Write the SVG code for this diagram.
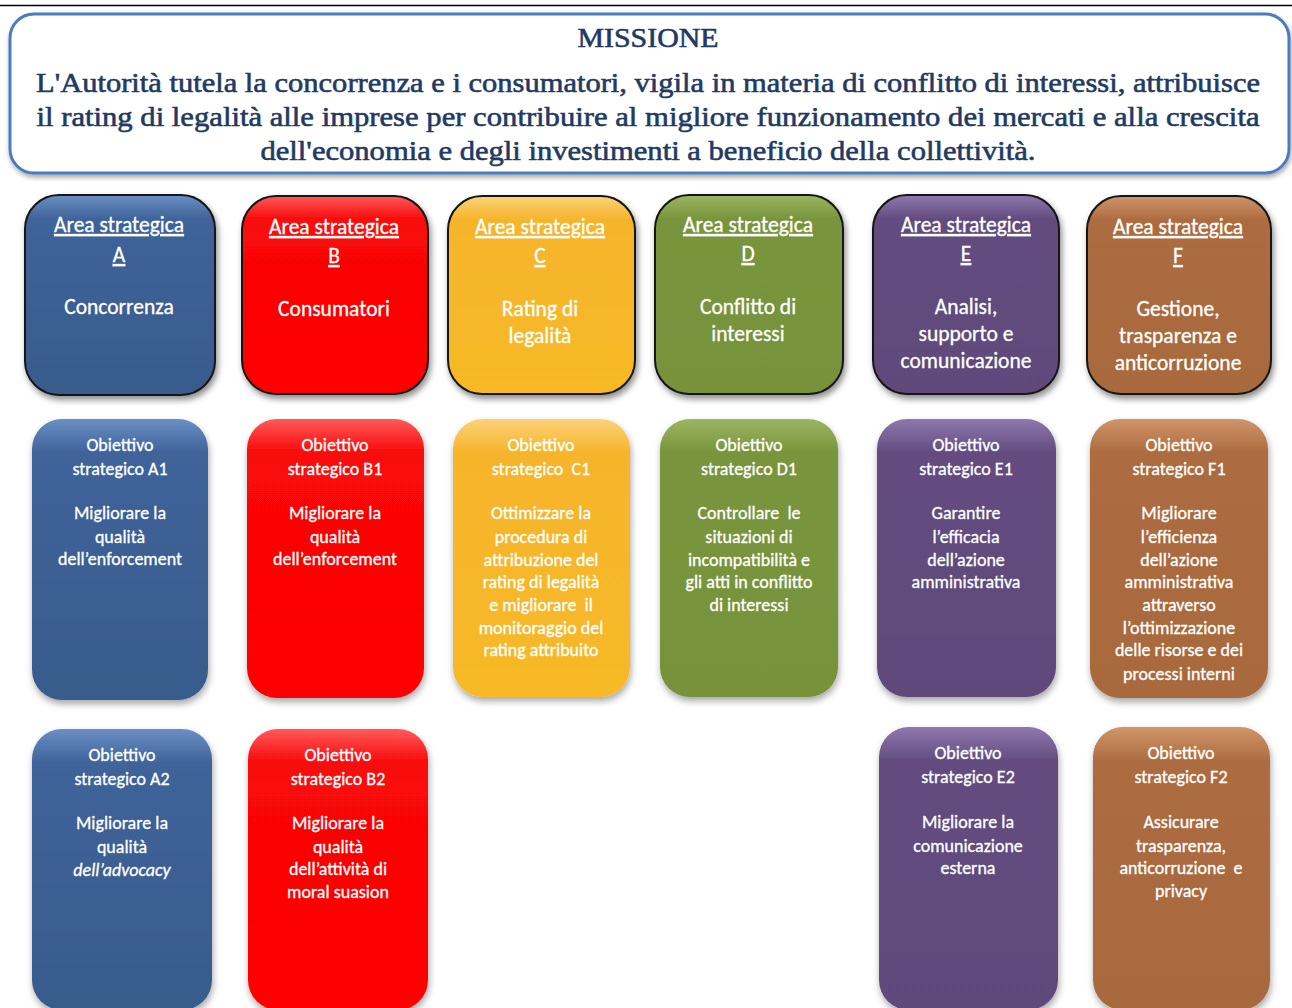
<svg xmlns="http://www.w3.org/2000/svg" width="1292" height="1008" viewBox="0 0 1292 1008">
<style>
.mt{font-family:"Liberation Serif","Times New Roman",serif;fill:#1f3a63;stroke:#1f3a63;stroke-width:0.6;text-anchor:middle}
.at{font-family:Carlito,Lato,"Liberation Sans",sans-serif;font-size:21.5px;fill:#fff;stroke:#fff;stroke-width:0.3;text-anchor:middle}
.u{text-decoration:underline}
.ot{font-family:Carlito,Lato,"Liberation Sans",sans-serif;font-size:18px;fill:#fff;stroke:#fff;stroke-width:0.3;text-anchor:middle}
.area{stroke:#151515;stroke-width:2;filter:url(#sh)}
.obj{filter:url(#sh2)}
</style>
<defs>
<filter id="sh" x="-20%" y="-20%" width="140%" height="140%">
<feDropShadow dx="2" dy="4" stdDeviation="3" flood-color="#000" flood-opacity="0.45"/>
</filter>
<filter id="sh2" x="-20%" y="-20%" width="140%" height="140%">
<feDropShadow dx="1" dy="4" stdDeviation="3.5" flood-color="#000" flood-opacity="0.35"/>
</filter>
<filter id="sh3" x="-5%" y="-20%" width="110%" height="140%">
<feDropShadow dx="1" dy="3" stdDeviation="2.5" flood-color="#000" flood-opacity="0.35"/>
</filter>
<linearGradient id="gA" x1="0" y1="0" x2="0" y2="1"><stop offset="0" stop-color="#6a8fc4"/><stop offset="0.12" stop-color="#3f639a"/><stop offset="1" stop-color="#385b8b"/></linearGradient>
<linearGradient id="gB" x1="0" y1="0" x2="0" y2="1"><stop offset="0" stop-color="#ff5a5a"/><stop offset="0.12" stop-color="#f80808"/><stop offset="1" stop-color="#ff0000"/></linearGradient>
<linearGradient id="gC" x1="0" y1="0" x2="0" y2="1"><stop offset="0" stop-color="#fcd27a"/><stop offset="0.12" stop-color="#f6b42a"/><stop offset="1" stop-color="#f7b928"/></linearGradient>
<linearGradient id="gD" x1="0" y1="0" x2="0" y2="1"><stop offset="0" stop-color="#9bb562"/><stop offset="0.12" stop-color="#78953c"/><stop offset="1" stop-color="#77923b"/></linearGradient>
<linearGradient id="gE" x1="0" y1="0" x2="0" y2="1"><stop offset="0" stop-color="#8e78ad"/><stop offset="0.12" stop-color="#634c80"/><stop offset="1" stop-color="#5f4a7a"/></linearGradient>
<linearGradient id="gF" x1="0" y1="0" x2="0" y2="1"><stop offset="0" stop-color="#d0956a"/><stop offset="0.12" stop-color="#ac6c40"/><stop offset="1" stop-color="#a8693d"/></linearGradient>
</defs>
<rect width="1292" height="1008" fill="#fff"/>
<line x1="0" y1="5.5" x2="1292" y2="5.5" stroke="#000" stroke-width="1.5"/>

<g id="missione">
<rect x="10" y="14" width="1279" height="159" rx="24" fill="#fff" stroke="#4a7dbb" stroke-width="3" filter="url(#sh3)"/>
<text class="mt" x="648" y="47" font-size="27" textLength="141" lengthAdjust="spacingAndGlyphs">MISSIONE</text>
<text class="mt" x="648" y="92" font-size="27.5" textLength="1224" lengthAdjust="spacingAndGlyphs">L'Autorità tutela la concorrenza e i consumatori, vigila in materia di conflitto di interessi, attribuisce</text>
<text class="mt" x="648" y="126" font-size="27.5" textLength="1223" lengthAdjust="spacingAndGlyphs">il rating di legalità alle imprese per contribuire al migliore funzionamento dei mercati e alla crescita</text>
<text class="mt" x="648" y="160" font-size="27.5" textLength="775" lengthAdjust="spacingAndGlyphs">dell'economia e degli investimenti a beneficio della collettività.</text>
</g>

<g id="area-A">
<rect class="area" x="25" y="195" width="190" height="200" rx="34" fill="url(#gA)"/>
<text class="at u" x="119" y="232">Area strategica</text>
<text class="at u" x="119" y="262">A</text>
<text class="at" x="119" y="314">Concorrenza</text>
</g>
<g id="area-B">
<rect class="area" x="242" y="196" width="186" height="198" rx="34" fill="url(#gB)"/>
<text class="at u" x="334" y="234">Area strategica</text>
<text class="at u" x="334" y="263">B</text>
<text class="at" x="334" y="316">Consumatori</text>
</g>
<g id="area-C">
<rect class="area" x="448" y="196" width="187" height="198" rx="34" fill="url(#gC)"/>
<text class="at u" x="540" y="234">Area strategica</text>
<text class="at u" x="540" y="263">C</text>
<text class="at" x="540" y="316">Rating di</text>
<text class="at" x="540" y="343">legalità</text>
</g>
<g id="area-D">
<rect class="area" x="655" y="195" width="188" height="199" rx="34" fill="url(#gD)"/>
<text class="at u" x="748" y="232">Area strategica</text>
<text class="at u" x="748" y="261">D</text>
<text class="at" x="748" y="314">Conflitto di</text>
<text class="at" x="748" y="341">interessi</text>
</g>
<g id="area-E">
<rect class="area" x="873" y="195" width="186" height="199" rx="34" fill="url(#gE)"/>
<text class="at u" x="966" y="232">Area strategica</text>
<text class="at u" x="966" y="261">E</text>
<text class="at" x="966" y="314">Analisi,</text>
<text class="at" x="966" y="341">supporto e</text>
<text class="at" x="966" y="368">comunicazione</text>
</g>
<g id="area-F">
<rect class="area" x="1087" y="196" width="184" height="198" rx="34" fill="url(#gF)"/>
<text class="at u" x="1178" y="234">Area strategica</text>
<text class="at u" x="1178" y="263">F</text>
<text class="at" x="1178" y="316">Gestione,</text>
<text class="at" x="1178" y="343">trasparenza e</text>
<text class="at" x="1178" y="370">anticorruzione</text>
</g>

<g id="obj-A1">
<rect class="obj" x="32" y="419" width="176" height="281" rx="30" fill="url(#gA)"/>
<text class="ot" x="120" y="451">Obiettivo</text>
<text class="ot" x="120" y="475">strategico A1</text>
<text class="ot" x="120" y="519">Migliorare la</text>
<text class="ot" x="120" y="543">qualità</text>
<text class="ot" x="120" y="565">dell’enforcement</text>
</g>
<g id="obj-B1">
<rect class="obj" x="247" y="419" width="177" height="279" rx="30" fill="url(#gB)"/>
<text class="ot" x="335" y="451">Obiettivo</text>
<text class="ot" x="335" y="475">strategico B1</text>
<text class="ot" x="335" y="519">Migliorare la</text>
<text class="ot" x="335" y="543">qualità</text>
<text class="ot" x="335" y="565">dell’enforcement</text>
</g>
<g id="obj-C1">
<rect class="obj" x="453" y="419" width="177" height="278" rx="30" fill="url(#gC)"/>
<text class="ot" x="541" y="451">Obiettivo</text>
<text class="ot" x="541" y="475" xml:space="preserve">strategico  C1</text>
<text class="ot" x="541" y="519">Ottimizzare la</text>
<text class="ot" x="541" y="543">procedura di</text>
<text class="ot" x="541" y="566">attribuzione del</text>
<text class="ot" x="541" y="588">rating di legalità</text>
<text class="ot" x="541" y="611" xml:space="preserve">e migliorare  il</text>
<text class="ot" x="541" y="634">monitoraggio del</text>
<text class="ot" x="541" y="656">rating attribuito</text>
</g>
<g id="obj-D1">
<rect class="obj" x="660" y="419" width="178" height="278" rx="30" fill="url(#gD)"/>
<text class="ot" x="749" y="451">Obiettivo</text>
<text class="ot" x="749" y="475">strategico D1</text>
<text class="ot" x="749" y="519" xml:space="preserve">Controllare  le</text>
<text class="ot" x="749" y="543">situazioni di</text>
<text class="ot" x="749" y="566">incompatibilità e</text>
<text class="ot" x="749" y="588">gli atti in conflitto</text>
<text class="ot" x="749" y="611">di interessi</text>
</g>
<g id="obj-E1">
<rect class="obj" x="877" y="419" width="179" height="278" rx="30" fill="url(#gE)"/>
<text class="ot" x="966" y="451">Obiettivo</text>
<text class="ot" x="966" y="475">strategico E1</text>
<text class="ot" x="966" y="519">Garantire</text>
<text class="ot" x="966" y="543">l’efficacia</text>
<text class="ot" x="966" y="566">dell’azione</text>
<text class="ot" x="966" y="588">amministrativa</text>
</g>
<g id="obj-F1">
<rect class="obj" x="1090" y="419" width="178" height="279" rx="30" fill="url(#gF)"/>
<text class="ot" x="1179" y="451">Obiettivo</text>
<text class="ot" x="1179" y="475">strategico F1</text>
<text class="ot" x="1179" y="519">Migliorare</text>
<text class="ot" x="1179" y="543">l’efficienza</text>
<text class="ot" x="1179" y="566">dell’azione</text>
<text class="ot" x="1179" y="588">amministrativa</text>
<text class="ot" x="1179" y="611">attraverso</text>
<text class="ot" x="1179" y="634">l’ottimizzazione</text>
<text class="ot" x="1179" y="656">delle risorse e dei</text>
<text class="ot" x="1179" y="680">processi interni</text>
</g>

<g id="obj-A2">
<rect class="obj" x="32" y="729" width="180" height="281" rx="30" fill="url(#gA)"/>
<text class="ot" x="122" y="761">Obiettivo</text>
<text class="ot" x="122" y="785">strategico A2</text>
<text class="ot" x="122" y="829">Migliorare la</text>
<text class="ot" x="122" y="853">qualità</text>
<text class="ot" x="122" y="876" font-style="italic">dell’advocacy</text>
</g>
<g id="obj-B2">
<rect class="obj" x="248" y="729" width="180" height="281" rx="30" fill="url(#gB)"/>
<text class="ot" x="338" y="761">Obiettivo</text>
<text class="ot" x="338" y="785">strategico B2</text>
<text class="ot" x="338" y="829">Migliorare la</text>
<text class="ot" x="338" y="853">qualità</text>
<text class="ot" x="338" y="875">dell’attività di</text>
<text class="ot" x="338" y="898">moral suasion</text>
</g>
<g id="obj-E2">
<rect class="obj" x="879" y="727" width="179" height="283" rx="30" fill="url(#gE)"/>
<text class="ot" x="968" y="759">Obiettivo</text>
<text class="ot" x="968" y="783">strategico E2</text>
<text class="ot" x="968" y="828">Migliorare la</text>
<text class="ot" x="968" y="852">comunicazione</text>
<text class="ot" x="968" y="874">esterna</text>
</g>
<g id="obj-F2">
<rect class="obj" x="1093" y="727" width="177" height="283" rx="30" fill="url(#gF)"/>
<text class="ot" x="1181" y="759">Obiettivo</text>
<text class="ot" x="1181" y="783">strategico F2</text>
<text class="ot" x="1181" y="828">Assicurare</text>
<text class="ot" x="1181" y="852">trasparenza,</text>
<text class="ot" x="1181" y="874" xml:space="preserve">anticorruzione  e</text>
<text class="ot" x="1181" y="897">privacy</text>
</g>
</svg>
